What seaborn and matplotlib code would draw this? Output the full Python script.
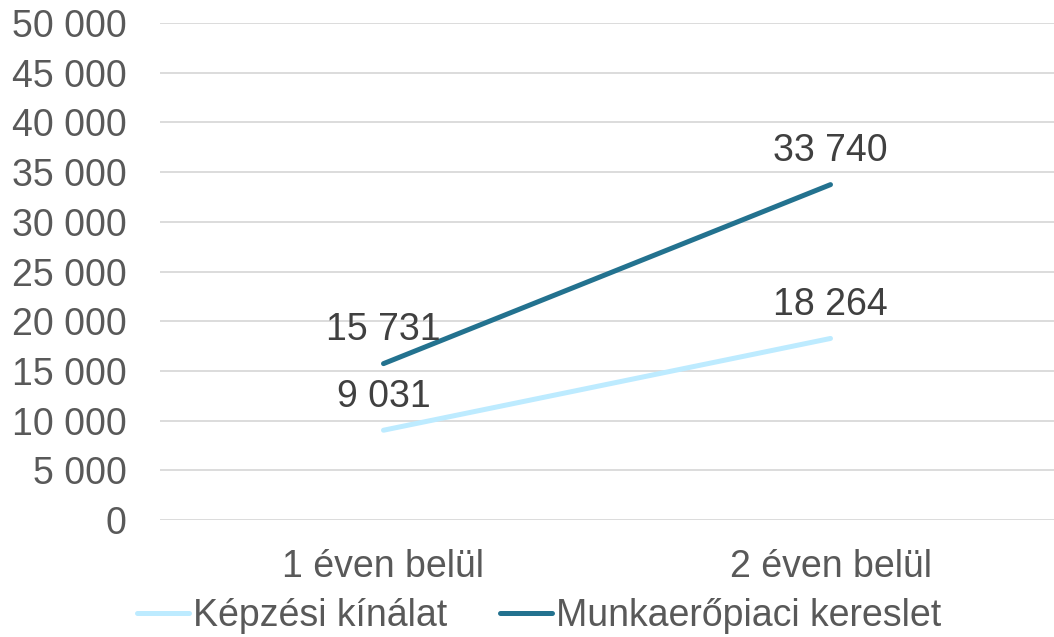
import matplotlib
matplotlib.use("Agg")
import matplotlib.pyplot as plt
import seaborn as sns
import pandas as pd
from matplotlib.ticker import FuncFormatter, MultipleLocator
from matplotlib.lines import Line2D

categories = ["1 éven belül", "2 éven belül"]
series_names = ["Képzési kínálat", "Munkaerőpiaci kereslet"]
kinalat = [9031, 18264]
kereslet = [15731, 33740]
colors = ["#BDEBFF", "#23728F"]

df = pd.DataFrame({
    "cat": categories * 2,
    "val": kinalat + kereslet,
    "series": [series_names[0]] * 2 + [series_names[1]] * 2,
})
df["x"] = [0, 1, 0, 1]

sns.set_theme(style="white")
plt.rcParams["font.family"] = ["Liberation Sans", "DejaVu Sans"]

FS = 27

fig = plt.figure(figsize=(10.54, 6.37), dpi=100)
ax = fig.add_axes([160 / 1054, 1 - 520 / 637, (1054 - 160) / 1054, (520 - 23) / 637])

sns.lineplot(data=df, x="x", y="val", hue="series", palette=colors, ax=ax,
             linewidth=3.6, legend=False, solid_capstyle="round")

ax.set_xlim(-0.5, 1.5)
ax.set_ylim(0, 50000)
ax.yaxis.set_major_locator(MultipleLocator(5000))
ax.yaxis.set_major_formatter(FuncFormatter(lambda v, p: f"{int(v):,}".replace(",", " ")))
ax.set_xticks([0, 1])
ax.set_xticklabels(categories)
ax.grid(axis="y", color="#D9D9D9", linewidth=1.3)
ax.set_axisbelow(True)
for s in ax.spines.values():
    s.set_visible(False)
ax.tick_params(axis="both", length=0, labelsize=FS, colors="#595959")
ax.tick_params(axis="y", pad=24)
ax.tick_params(axis="x", pad=21)
ax.set_xlabel("")
ax.set_ylabel("")

for vals in (kinalat, kereslet):
    for i, v in enumerate(vals):
        ax.annotate(f"{v:,}".replace(",", " "), (i, v), xytext=(0, 17), textcoords="offset points",
                    ha="center", va="baseline", fontsize=FS, color="#404040")

handles = [Line2D([0], [0], color=c, linewidth=3.6, solid_capstyle="round") for c in colors]
leg = fig.legend(handles, series_names, loc="center", bbox_to_anchor=(539 / 1054, 1 - 616 / 637),
                 ncol=2, frameon=False, fontsize=FS, handlelength=1.4, handletextpad=0.1,
                 columnspacing=1.4, borderaxespad=0)
for t in leg.get_texts():
    t.set_color("#595959")

fig.savefig("out.png", dpi=100)
